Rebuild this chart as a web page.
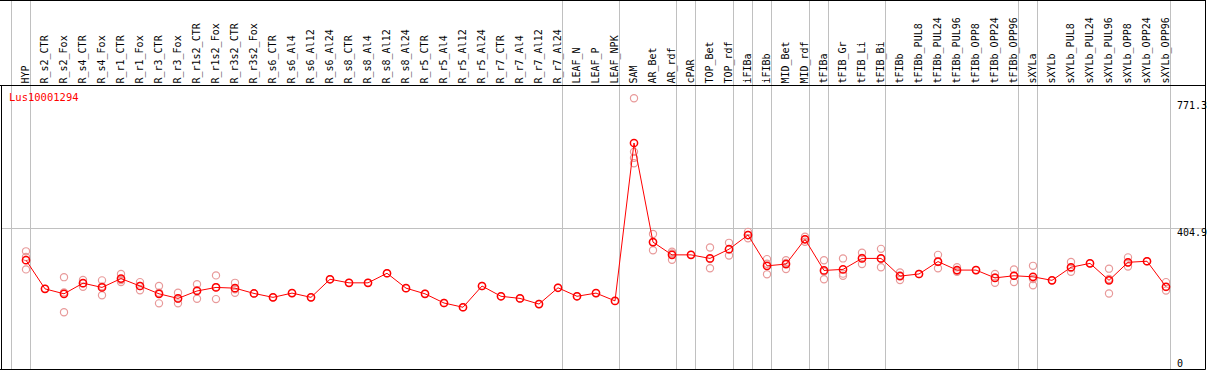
<!DOCTYPE html>
<html>
<head>
<meta charset="utf-8">
<script src="https://cdn.jsdelivr.net/npm/d3@7"></script>
<style>
  body { margin: 0; background: #fff; }
  svg { display: block; font-family: 'DejaVu Sans Mono', monospace; }
</style>
</head>
<body>
<div id="chart"></div>
<script>
const geneName = 'Lus10001294'

const samples = [
  'HYP',
  'R_s2_CTR', 'R_s2_Fox', 'R_s4_CTR', 'R_s4_Fox', 'R_r1_CTR', 'R_r1_Fox',
  'R_r3_CTR', 'R_r3_Fox', 'R_r1s2_CTR', 'R_r1s2_Fox', 'R_r3s2_CTR', 'R_r3s2_Fox',
  'R_s6_CTR', 'R_s6_Al4', 'R_s6_Al12', 'R_s6_Al24', 'R_s8_CTR', 'R_s8_Al4',
  'R_s8_Al12', 'R_s8_Al24', 'R_r5_CTR', 'R_r5_Al4', 'R_r5_Al12', 'R_r5_Al24',
  'R_r7_CTR', 'R_r7_Al4', 'R_r7_Al12', 'R_r7_Al24',
  'LEAF_N', 'LEAF_P', 'LEAF_NPK',
  'SAM', 'AR_Bet', 'AR_rdf',
  'cPAR',
  'TOP_Bet', 'TOP_rdf',
  'iFIBa',
  'iFIBb',
  'MID_Bet', 'MID_rdf',
  'tFIBa',
  'tFIB_Gr', 'tFIB_Li', 'tFIB_Bi',
  'tFIBb', 'tFIBb_PUL8', 'tFIBb_PUL24', 'tFIBb_PUL96', 'tFIBb_OPP8', 'tFIBb_OPP24', 'tFIBb_OPP96',
  'sXYLa',
  'sXYLb', 'sXYLb_PUL8', 'sXYLb_PUL24', 'sXYLb_PUL96', 'sXYLb_OPP8', 'sXYLb_OPP24', 'sXYLb_OPP96'
]

// number of samples in each tissue group (separated by grey lines)
const groupSizes = [1, 28, 3, 3, 1, 2, 1, 1, 2, 1, 3, 7, 1, 7]

const means = [
  314,
  233, 219, 249, 237, 262, 241, 219, 206, 227, 237, 235, 220,
  209, 221, 209, 260, 250, 250, 277, 235, 219, 193, 181, 241,
  212, 206, 190, 236,
  212, 221, 199,
  645, 365, 329,
  329,
  319, 345,
  385,
  298,
  303, 373,
  285,
  288, 319, 319,
  269, 275, 310, 286, 286, 264, 270,
  267,
  257, 294, 305, 257, 308, 311, 239
]

const replicates = [
  [339, 323, 288],
  [233], [266, 223, 167], [258, 249, 239], [257, 240, 215], [275, 258, 252], [252, 241, 229],
  [241, 222, 192], [222, 205, 192], [246, 229, 205], [271, 238, 204], [250, 232, 222], [220],
  [209], [221], [209], [260], [250], [250], [277], [235], [219], [193], [181], [241],
  [212], [206], [190], [236],
  [212], [221], [199],
  [771.3, 620, 603, 588], [388, 364, 342], [338, 333, 315],
  [329],
  [350, 317, 291], [363, 344, 327],
  [394, 385, 376],
  [317, 304, 274],
  [314, 306, 289], [380, 373, 366],
  [314, 282, 260],
  [319, 276, 270], [335, 320, 303], [346, 318, 294],
  [279, 271, 258], [275], [329, 309, 291], [294, 284, 281], [286], [275, 265, 250], [288, 270, 252],
  [298, 261, 243],
  [257], [309, 292, 281], [305], [290, 261, 220], [322, 307, 296], [311], [252, 238, 228]
]

const yTickValues = [0, 404.9, 771.3]
const yGridValue = 404.9

const width = 1209
const height = 370
const headerBottom = 85
const frameRight = 1205.5
const frameBottom = 369.5

const svg = d3
  .select('#chart')
  .append('svg')
  .attr('width', width)
  .attr('height', height)

const xBand = d3
  .scaleBand()
  .domain(samples)
  .range([11, 11 + samples.length * 19])

const xPoint = d => xBand(d) + 15

const yScale = d3
  .scaleLinear()
  .domain([404.9, 771.3])
  .range([228, 98.3])

// group boundaries
const boundaries = [0]
groupSizes.reduce((acc, n) => {
  boundaries.push(acc + n)
  return acc + n
}, 0)

svg
  .selectAll('.vgrid')
  .data(boundaries)
  .enter()
  .append('line')
  .attr('class', 'vgrid')
  .attr('x1', i => (i < samples.length ? xBand(samples[i]) : xBand(samples[i - 1]) + 19) + 0.5)
  .attr('x2', i => (i < samples.length ? xBand(samples[i]) : xBand(samples[i - 1]) + 19) + 0.5)
  .attr('y1', 0)
  .attr('y2', height)
  .attr('stroke', '#c0c0c0')
  .attr('stroke-width', 1)

svg
  .append('line')
  .attr('x1', 1)
  .attr('x2', frameRight)
  .attr('y1', Math.round(yScale(yGridValue)) + 0.5)
  .attr('y2', Math.round(yScale(yGridValue)) + 0.5)
  .attr('stroke', '#c0c0c0')

// sample labels
svg
  .selectAll('.sample-label')
  .data(samples)
  .enter()
  .append('text')
  .attr('class', 'sample-label')
  .attr('transform', d => 'translate(' + (xPoint(d) - 0.5) + ',' + 83.5 + ') rotate(-90)')
  .attr('dy', '0.35em')
  .attr('font-size', '10px')
  .attr('fill', '#000')
  .text(d => d)

// frame
svg.append('line')
  .attr('x1', 0).attr('x2', frameRight)
  .attr('y1', 0.5).attr('y2', 0.5)
  .attr('stroke', '#000')
svg.append('line')
  .attr('x1', 0).attr('x2', frameRight)
  .attr('y1', headerBottom + 0.5).attr('y2', headerBottom + 0.5)
  .attr('stroke', '#000')
svg.append('line')
  .attr('x1', 0).attr('x2', frameRight)
  .attr('y1', frameBottom).attr('y2', frameBottom)
  .attr('stroke', '#000')
svg.append('line')
  .attr('x1', 1.5).attr('x2', 1.5)
  .attr('y1', headerBottom).attr('y2', frameBottom)
  .attr('stroke', '#000')
svg.append('line')
  .attr('x1', frameRight).attr('x2', frameRight)
  .attr('y1', 0).attr('y2', frameBottom)
  .attr('stroke', '#000')

// y labels on the right
svg
  .selectAll('.y-label')
  .data(yTickValues)
  .enter()
  .append('text')
  .attr('class', 'y-label')
  .attr('x', 1177)
  .attr('y', d => Math.min(Math.max(yScale(d), 101), 359) + 7.5)
  .attr('font-size', '10px')
  .attr('fill', '#000')
  .text(d => d)

svg
  .append('text')
  .attr('x', 9)
  .attr('y', 101)
  .attr('font-size', '10.5px')
  .attr('fill', '#ff0000')
  .text(geneName)

// replicate circles
const repData = []
replicates.forEach((reps, i) => {
  reps.forEach(v => repData.push({ sample: samples[i], value: v }))
})

svg
  .selectAll('.rep')
  .data(repData)
  .enter()
  .append('circle')
  .attr('class', 'rep')
  .attr('cx', d => xPoint(d.sample))
  .attr('cy', d => yScale(d.value))
  .attr('r', 3.6)
  .attr('fill', 'none')
  .attr('stroke', '#e89a9a')
  .attr('stroke-width', 1.2)

const line = d3
  .line()
  .x((d, i) => xPoint(samples[i]))
  .y(d => yScale(d))

svg
  .append('path')
  .datum(means)
  .attr('d', line)
  .attr('fill', 'none')
  .attr('stroke', '#ff0000')
  .attr('stroke-width', 1)

svg
  .selectAll('.mean')
  .data(means)
  .enter()
  .append('circle')
  .attr('class', 'mean')
  .attr('cx', (d, i) => xPoint(samples[i]))
  .attr('cy', d => yScale(d))
  .attr('r', 3.6)
  .attr('fill', 'none')
  .attr('stroke', '#ff0000')
  .attr('stroke-width', 1.5)
</script>
</body>
</html>
